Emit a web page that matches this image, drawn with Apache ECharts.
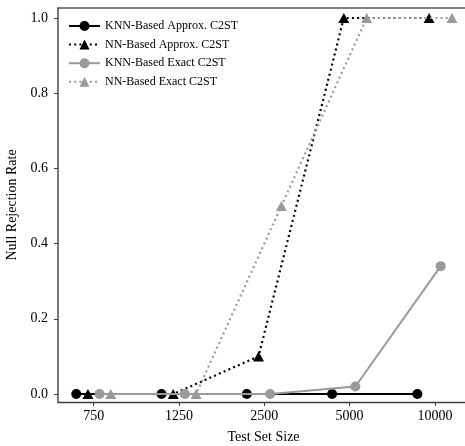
<!DOCTYPE html>
<html>
<head>
<meta charset="utf-8">
<script src="https://cdn.jsdelivr.net/npm/echarts@6/dist/echarts.min.js"></script>
<style>
  html, body { margin: 0; padding: 0; background: #fff; }
  #chart { width: 465px; height: 446px; }
</style>
</head>
<body>
<div id="chart"></div>
<script>
// Test set sizes (one group per size)
const sizes = ['750', '1250', '2500', '5000', '10000'];
const yTicks = [0, 0.2, 0.4, 0.6, 0.8, 1.0];

// Null rejection rate per test
const knnApprox = [0, 0, 0, 0, 0];
const nnApprox = [0, 0, 0.1, 1.0, 1.0];
const knnExact = [0, 0, 0, 0.02, 0.34];
const nnExact = [0, 0, 0.5, 1.0, 1.0];

const seriesNames = [
  'KNN-Based Approx. C2ST',
  'NN-Based Approx. C2ST',
  'KNN-Based Exact C2ST',
  'NN-Based Exact C2ST'
];

const FONT = 'Liberation Serif';
const BLACK = '#000000';
const GREY = '#9a9a9a';
const SPINE = '#3a3a3a';

// horizontal dodge of the four tests within each size group (in group units)
const dodge = [-0.205, -0.068, 0.068, 0.2];

function pts(values, k) {
  return values.map((v, i) => [i + dodge[k], v]);
}

function makeSeries(k, values, color, symbol, dotted) {
  return {
    name: seriesNames[k],
    type: 'line',
    xAxisIndex: 0,
    data: pts(values, k),
    symbol: symbol,
    symbolSize: symbol === 'triangle' ? [11, 10] : 10,
    itemStyle: { color: color },
    lineStyle: {
      color: color,
      width: dotted ? 2.2 : 2,
      type: dotted ? [2, 3.2] : 'solid',
      cap: 'butt'
    },
    emphasis: { disabled: true },
    animation: false,
    z: 2 + k
  };
}

const chart = echarts.init(document.getElementById('chart'), null, { renderer: 'canvas' });

const xRange = { min: -0.419, max: 4.4 };

chart.setOption({
  backgroundColor: '#ffffff',
  animation: false,
  grid: {
    left: 58, top: 8, width: 411, bottom: 44,
    show: false,
    containLabel: false,
    outerBoundsMode: 'none'
  },
  legend: {
    orient: 'vertical',
    left: 63, top: 15,
    itemWidth: 31, itemHeight: 12.5, itemGap: 6.6,
    data: seriesNames,
    textStyle: { fontFamily: FONT, fontSize: 12, color: '#000' },
    selectedMode: false
  },
  xAxis: [{
    type: 'value',
    min: xRange.min, max: xRange.max,
    name: 'Test Set Size',
    nameLocation: 'middle',
    nameGap: 28,
    nameTextStyle: { fontFamily: FONT, fontSize: 14, color: '#000' },
    axisLine: { show: true, onZero: false, lineStyle: { color: SPINE, width: 1.3 } },
    axisTick: {
      show: true, inside: false, length: 4,
      customValues: sizes.map((s, i) => i),
      lineStyle: { color: SPINE, width: 1 }
    },
    axisLabel: {
      customValues: sizes.map((s, i) => i),
      formatter: v => sizes[Math.round(v)],
      fontFamily: FONT, fontSize: 14, color: '#000', margin: 7
    },
    splitLine: { show: false }
  }, {
    // top frame line
    type: 'value',
    position: 'top',
    min: xRange.min, max: xRange.max,
    axisLine: { show: true, onZero: false, lineStyle: { color: '#555', width: 1.6 } },
    axisTick: { show: false },
    axisLabel: { show: false },
    splitLine: { show: false }
  }],
  yAxis: {
    type: 'value',
    min: -0.0213, max: 1.0266,
    name: 'Null Rejection Rate',
    nameLocation: 'middle',
    nameGap: 34,
    nameTextStyle: { fontFamily: FONT, fontSize: 14, color: '#000' },
    axisLine: { show: true, onZero: false, lineStyle: { color: '#555', width: 1.6 } },
    axisTick: {
      show: true, inside: false, length: 4,
      customValues: yTicks,
      lineStyle: { color: SPINE, width: 1 }
    },
    axisLabel: {
      customValues: yTicks,
      formatter: v => v.toFixed(1),
      fontFamily: FONT, fontSize: 14, color: '#000', margin: 10
    },
    splitLine: { show: false }
  },
  series: [
    makeSeries(0, knnApprox, BLACK, 'circle', false),
    makeSeries(1, nnApprox, BLACK, 'triangle', true),
    makeSeries(2, knnExact, GREY, 'circle', false),
    makeSeries(3, nnExact, GREY, 'triangle', true)
  ]
});
</script>
</body>
</html>
